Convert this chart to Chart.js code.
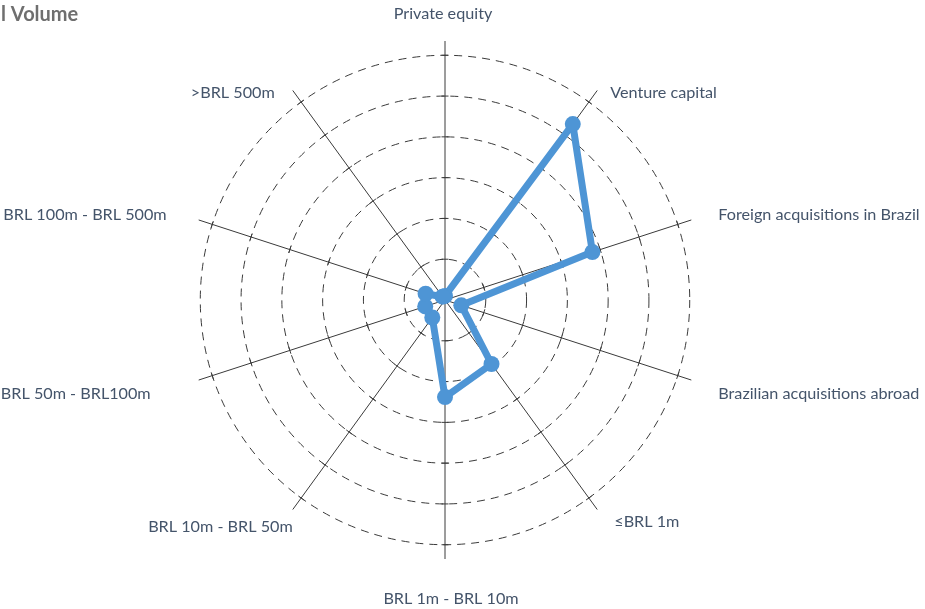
<!DOCTYPE html>
<html>
<head>
<meta charset="utf-8">
<script src="https://cdn.jsdelivr.net/npm/chart.js@4.4.1/dist/chart.umd.min.js"></script>
<style>
  html, body { margin: 0; padding: 0; background: #fff; }
  #wrap { position: relative; width: 925px; height: 609px; }
</style>
</head>
<body>
<div id="wrap"><canvas id="radar"></canvas></div>
<script>
// ---------- data ----------
const categories = [
  'Private equity', 'Venture capital', 'Foreign acquisitions in Brazil',
  'Brazilian acquisitions abroad', '\u2264BRL 1m', 'BRL 1m - BRL 10m',
  'BRL 10m - BRL 50m', 'BRL 50m - BRL100m', 'BRL 100m - BRL 500m', '>BRL 500m'
];
const volume = [0.1, 5.33, 3.8, 0.42, 1.94, 2.38, 0.53, 0.51, 0.5, 0.1];
const ringTicks = [0, 1, 2, 3, 4, 5, 6];
const axisMax = 6.35; // spokes run a little past the last ring

// ---------- styling ----------
const BLUE = '#4e95d5';
const GRID = '#3a3a3a';
const LABEL = '#44546a';
const FONT = 'Lato, "Noto Sans", sans-serif';

// label nudges from the spoke end: [dx, dy, align]
const labelPlace = [
  [-2, -27, 'center'], [13, 2, 'left'], [27, -5, 'left'], [27, 14, 'left'],
  [17, 12, 'left'], [6, 40, 'center'], [0, 17, 'right'], [-48, 14, 'right'],
  [-32, -5, 'right'], [-18, 2, 'right']
];

// ---------- plugins ----------
const decor = {
  id: 'decor',
  beforeDatasetsDraw(chart) {
    const r = chart.scales.r;
    const ctx = chart.ctx;
    ctx.save();
    ctx.strokeStyle = GRID;
    ctx.lineWidth = 1;
    // little cross ticks where rings meet the spokes
    categories.forEach((_, i) => {
      ringTicks.slice(1).forEach(v => {
        const d = r.getDistanceFromCenterForValue(v);
        const p = r.getPointPosition(i, d);
        const ang = Math.atan2(p.y - r.yCenter, p.x - r.xCenter) + Math.PI / 2;
        const dx = Math.cos(ang) * 3.5, dy = Math.sin(ang) * 3.5;
        ctx.beginPath();
        ctx.moveTo(p.x - dx, p.y - dy);
        ctx.lineTo(p.x + dx, p.y + dy);
        ctx.stroke();
      });
    });
    // category labels
    ctx.fillStyle = LABEL;
    ctx.font = '16.2px ' + FONT;
    ctx.textBaseline = 'middle';
    categories.forEach((name, i) => {
      const end = r.getPointPosition(i, r.drawingArea);
      const [dx, dy, align] = labelPlace[i];
      ctx.textAlign = align;
      ctx.fillText(name, end.x + dx, end.y + dy);
    });
    ctx.restore();
  },
  afterDraw(chart) {
    const ctx = chart.ctx;
    ctx.save();
    ctx.fillStyle = '#6f6f6f';
    ctx.font = 'bold 20px ' + FONT;
    ctx.textBaseline = 'middle';
    ctx.textAlign = 'left';
    ctx.fillText('l Volume', 1, 15);
    ctx.restore();
  }
};

new Chart(document.getElementById('radar'), {
  type: 'radar',
  data: {
    labels: categories,
    datasets: [{
      label: 'Volume',
      data: volume,
      borderColor: BLUE,
      backgroundColor: BLUE,
      borderWidth: 7,
      borderJoinStyle: 'round',
      fill: false,
      pointRadius: 8,
      pointBorderWidth: 0,
      pointBackgroundColor: BLUE
    }]
  },
  options: {
    responsive: true,
    maintainAspectRatio: false,
    animation: false,
    layout: { padding: { left: 186, right: 221, top: 41, bottom: 50 } },
    plugins: { legend: { display: false }, tooltip: { enabled: false } },
    scales: {
      r: {
        min: 0,
        max: axisMax,
        startAngle: 0,
        afterBuildTicks(scale) {
          scale.ticks = ringTicks.map(v => ({ value: v }));
        },
        ticks: { display: false },
        pointLabels: { display: false },
        grid: { circular: true, color: GRID, lineWidth: 1 },
        border: { dash: [8, 6] },
        angleLines: { color: GRID, lineWidth: 1 }
      }
    }
  },
  plugins: [decor]
});
</script>
</body>
</html>
